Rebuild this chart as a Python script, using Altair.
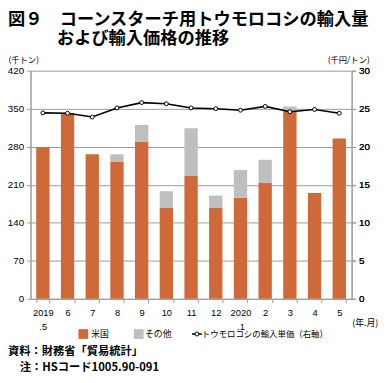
import altair as alt
import pandas as pd

# ---- data ----
months = ["2019|.5", "6", "7", "8", "9", "10", "11", "12", "2020|.1", "2", "3", "4", "5"]
us_vol = [279, 341, 266, 253, 289, 168, 226, 168, 186, 213, 346, 195, 295]
other_vol = [0, 0, 0, 13, 31, 30, 88, 22, 51, 43, 8, 0, 0]
unit_price = [24.45, 24.4, 23.9, 25.1, 25.8, 25.65, 25.1, 25.0, 24.8, 25.3, 24.6, 24.9, 24.4]
series = ["米国", "その他"]
series_colors = ["#D0693A", "#BFBFBF"]
line_label = "トウモロコシの輸入単価（右軸）"
left_ticks = [0, 70, 140, 210, 280, 350, 420]
right_ticks = [0, 5, 10, 15, 20, 25, 30]
title_1 = "図９　コーンスターチ用トウモロコシの輸入量"
title_2 = "および輸入価格の推移"
left_unit = "(千トン)"
right_unit = "(千円/トン)"
x_unit = "(年.月)"
source_1 = "資料：財務省「貿易統計」"
source_2 = "注：HSコード1005.90-091"

JP = "Noto Sans CJK JP"
NUM = "Liberation Sans"
W, H = 328, 233
GRID = "#9A9A9A"

rows = []
for i, m in enumerate(months):
    rows.append({"month": m, "series": series[0], "order": 0, "value": us_vol[i]})
    rows.append({"month": m, "series": series[1], "order": 1, "value": other_vol[i]})
bars_df = pd.DataFrame(rows)
price_df = pd.DataFrame({"month": months, "price": unit_price})

xenc = alt.X(
    "month:N", sort=months,
    scale=alt.Scale(domain=months, paddingInner=0.46, paddingOuter=0.23),
    axis=alt.Axis(title=None, labelExpr="split(datum.label, '|')", labelAngle=0,
                  tickBand="extent", tickSize=4, tickColor=GRID, domainColor=GRID,
                  labelFont=NUM, labelFontSize=9.5, labelColor="black",
                  labelPadding=5, labelLineHeight=14, labelBaseline="top"),
)

bars = alt.Chart(bars_df).mark_bar().encode(
    x=xenc,
    y=alt.Y("value:Q", stack="zero",
            scale=alt.Scale(domain=[0, 420], nice=False),
            axis=alt.Axis(title=None, values=left_ticks, grid=True, gridColor=GRID,
                          domainColor=GRID, domainWidth=1.5, tickColor=GRID, tickSize=4,
                          labelFont=NUM, labelFontSize=10, labelColor="black", labelPadding=3)),
    color=alt.Color("series:N", scale=alt.Scale(domain=series, range=series_colors), legend=None),
    order=alt.Order("order:Q", sort="ascending"),
)

yline = alt.Y("price:Q", scale=alt.Scale(domain=[0, 30], nice=False),
              axis=alt.Axis(title=None, orient="right", values=right_ticks, grid=False,
                            domainColor=GRID, tickColor=GRID, tickSize=4,
                            labelFont=NUM, labelFontSize=10, labelColor="black", labelPadding=3))
line = alt.Chart(price_df).mark_line(color="black", strokeWidth=1.6).encode(x=xenc, y=yline)
pts = alt.Chart(price_df).mark_point(filled=True, fill="white", stroke="black", strokeWidth=1, size=16, opacity=1).encode(x=xenc, y=yline)

def txt(text, x, y, size, weight="normal", align="left", font=JP):
    return alt.Chart(alt.Data(values=[{"t": text}])).mark_text(
        align=align, baseline="middle", fontSize=size, fontWeight=weight, font=font, color="black"
    ).encode(x=alt.value(x), y=alt.value(y), text="t:N")

LY = 269
one = alt.Data(values=[{"a": 1}])
sw_us = alt.Chart(one).mark_square(size=100, color=series_colors[0], opacity=1).encode(x=alt.value(54), y=alt.value(LY))
sw_ot = alt.Chart(one).mark_square(size=100, color=series_colors[1], opacity=1).encode(x=alt.value(110.5), y=alt.value(LY))
sw_line = alt.Chart(one).mark_rule(color="black", strokeWidth=1.6).encode(x=alt.value(165), x2=alt.value(175), y=alt.value(LY))
sw_pt = alt.Chart(one).mark_point(filled=True, fill="white", stroke="black", strokeWidth=1, size=16, opacity=1).encode(x=alt.value(170), y=alt.value(LY))

texts = [
    txt(title_1, -23, -52, 17.6, "bold"),
    txt(title_2, 27, -32, 17.6, "bold"),
    txt(left_unit, -7, -11, 8.5, align="center"),
    txt(right_unit, 325, -11, 8.5, align="center"),
    txt(x_unit, 342, 258, 9, align="center"),
    txt(series[0], 62, LY, 9),
    txt(series[1], 117, LY, 9),
    txt(line_label, 175, LY, 8.6),
    txt(source_1, -23, 287, 11.5, "bold"),
    txt(source_2, -11, 304, 11.5, "bold"),
]

chart = alt.layer(bars, line, pts, sw_us, sw_ot, sw_line, sw_pt, *texts).resolve_scale(
    y="independent"
).properties(
    width=W, height=H, autosize="none",
    padding={"left": 23, "top": 60, "right": 30, "bottom": 82},
).configure_view(stroke=None)

chart.save("out.html", embed_options={"renderer": "svg", "actions": False})
